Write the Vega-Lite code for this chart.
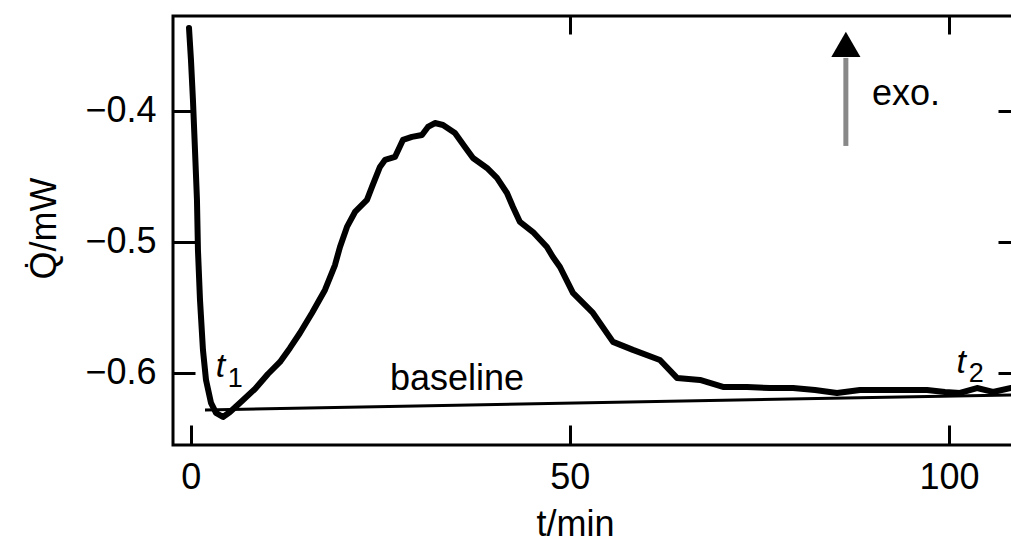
{
  "$schema": "https://vega.github.io/schema/vega-lite/v6.json",
  "autosize": {"type": "none"},
  "padding": {"left": 173, "top": 16, "right": 0, "bottom": 104},
  "width": 840,
  "height": 429,
  "background": "white",
  "config": {
    "view": {"stroke": "black", "strokeWidth": 3},
    "font": "Liberation Sans",
    "axis": {"labelFont": "Liberation Sans", "titleFont": "Liberation Sans", "labelColor": "black", "titleColor": "black", "tickColor": "black", "domain": false, "grid": false}
  },
  "datasets": {
    "curve": [
      {"t": -0.22, "q": -0.3366}, {"t": 0.04, "q": -0.3611}, {"t": 0.30, "q": -0.3916}, {"t": 0.57, "q": -0.4298},
      {"t": 0.83, "q": -0.4679}, {"t": 0.96, "q": -0.5061}, {"t": 1.23, "q": -0.5443}, {"t": 1.62, "q": -0.5824},
      {"t": 2.02, "q": -0.6053}, {"t": 2.68, "q": -0.6229}, {"t": 3.34, "q": -0.6305}, {"t": 4.26, "q": -0.6336},
      {"t": 5.18, "q": -0.6298}, {"t": 6.77, "q": -0.6214}, {"t": 8.48, "q": -0.6122}, {"t": 10.19, "q": -0.6008},
      {"t": 11.78, "q": -0.5916}, {"t": 13.10, "q": -0.5809}, {"t": 14.41, "q": -0.5695}, {"t": 16.00, "q": -0.5542},
      {"t": 17.71, "q": -0.5366}, {"t": 19.03, "q": -0.5176}, {"t": 19.69, "q": -0.5038}, {"t": 20.61, "q": -0.4885},
      {"t": 21.67, "q": -0.4771}, {"t": 23.25, "q": -0.4679}, {"t": 23.91, "q": -0.4580}, {"t": 24.96, "q": -0.4427},
      {"t": 25.62, "q": -0.4374}, {"t": 26.94, "q": -0.4351}, {"t": 27.99, "q": -0.4221}, {"t": 29.18, "q": -0.4198},
      {"t": 30.50, "q": -0.4183}, {"t": 31.29, "q": -0.4122}, {"t": 32.21, "q": -0.4092}, {"t": 33.27, "q": -0.4107},
      {"t": 34.85, "q": -0.4168}, {"t": 36.17, "q": -0.4275}, {"t": 37.23, "q": -0.4359}, {"t": 39.07, "q": -0.4435},
      {"t": 40.39, "q": -0.4511}, {"t": 41.71, "q": -0.4626}, {"t": 42.50, "q": -0.4733}, {"t": 43.42, "q": -0.4847},
      {"t": 45.14, "q": -0.4924}, {"t": 46.98, "q": -0.5038}, {"t": 47.77, "q": -0.5115}, {"t": 48.70, "q": -0.5191},
      {"t": 50.41, "q": -0.5389}, {"t": 53.05, "q": -0.5542}, {"t": 55.69, "q": -0.5763}, {"t": 58.32, "q": -0.5824},
      {"t": 61.88, "q": -0.5901}, {"t": 64.13, "q": -0.6038}, {"t": 67.16, "q": -0.6053}, {"t": 70.20, "q": -0.6107},
      {"t": 73.36, "q": -0.6107}, {"t": 76.39, "q": -0.6115}, {"t": 79.43, "q": -0.6115}, {"t": 82.33, "q": -0.6130},
      {"t": 85.23, "q": -0.6153}, {"t": 88.26, "q": -0.6130}, {"t": 92.61, "q": -0.6130}, {"t": 97.10, "q": -0.6130},
      {"t": 99.47, "q": -0.6145}, {"t": 101.45, "q": -0.6153}, {"t": 103.69, "q": -0.6115}, {"t": 105.80, "q": -0.6145},
      {"t": 108.18, "q": -0.6115}
    ],
    "baseline": [{"t1": 1.89, "q1": -0.6282, "t2": 108.2, "q2": -0.6168}],
    "labels": [
      {"label": "baseline", "t": 26.27, "q": -0.6130},
      {"label": "exo.", "t": 89.83, "q": -0.3954}
    ],
    "tlabels": [
      {"label": "t", "t": 3.3, "q": -0.6031},
      {"label": "t", "t": 101.0, "q": -0.6}
    ],
    "subs": [
      {"label": "1", "t": 4.9, "q": -0.6107},
      {"label": "2", "t": 102.6, "q": -0.6069}
    ],
    "arrow": [{"t": 86.4, "q1": -0.4267, "q2": -0.3595, "qh": -0.3492}]
  },
  "layer": [
    {
      "data": {"name": "curve"},
      "mark": {"type": "line", "color": "black", "strokeWidth": 6, "strokeJoin": "round", "strokeCap": "round"},
      "encoding": {
        "x": {"field": "t", "type": "quantitative",
          "scale": {"domain": [-2.33, 108.44], "nice": false, "zero": false},
          "axis": {"orient": "bottom", "values": [0, 50, 100], "tickSize": -20, "tickWidth": 3, "labelPadding": 63, "labelBaseline": "alphabetic", "labelFontSize": 36, "labelFlush": false,
            "title": "t/min", "titleFontSize": 36, "titleFontWeight": "normal", "titleX": 402, "titleY": 90, "titleBaseline": "alphabetic", "titleAlign": "center"}},
        "y": {"field": "q", "type": "quantitative",
          "scale": {"domain": [-0.655, -0.3275], "nice": false, "zero": false},
          "axis": {"orient": "left", "values": [-0.6, -0.5, -0.4], "format": ".1f", "tickSize": -22, "tickWidth": 3, "labelPadding": 39, "labelFontSize": 36, "labelFlush": false,
            "title": "Q̇/mW", "titleFontSize": 36, "titleFontWeight": "normal", "titleAngle": -90, "titleX": -118, "titleY": 212, "titleBaseline": "alphabetic", "titleAlign": "center"}}
      }
    },
    {
      "data": {"name": "baseline"},
      "mark": {"type": "rule", "color": "black", "strokeWidth": 3},
      "encoding": {
        "x": {"field": "t1", "type": "quantitative",
          "axis": {"orient": "top", "values": [50, 100], "tickSize": -18, "tickWidth": 3, "labels": false, "title": null}},
        "x2": {"field": "t2"},
        "y": {"field": "q1", "type": "quantitative",
          "axis": {"orient": "right", "values": [-0.6, -0.5, -0.4], "tickSize": -15, "tickWidth": 3, "labels": false, "title": null}},
        "y2": {"field": "q2"}
      }
    },
    {
      "data": {"name": "arrow"},
      "mark": {"type": "rule", "color": "#888888", "strokeWidth": 5},
      "encoding": {
        "x": {"field": "t", "type": "quantitative", "axis": null},
        "y": {"field": "q1", "type": "quantitative", "axis": null},
        "y2": {"field": "q2"}
      }
    },
    {
      "data": {"name": "arrow"},
      "mark": {"type": "point", "shape": "triangle-up", "filled": true, "color": "black", "size": 850, "opacity": 1},
      "encoding": {
        "x": {"field": "t", "type": "quantitative", "axis": null},
        "y": {"field": "qh", "type": "quantitative", "axis": null}
      }
    },
    {
      "data": {"name": "labels"},
      "mark": {"type": "text", "align": "left", "baseline": "alphabetic", "fontSize": 36, "font": "Liberation Sans", "color": "black"},
      "encoding": {
        "x": {"field": "t", "type": "quantitative", "axis": null},
        "y": {"field": "q", "type": "quantitative", "axis": null},
        "text": {"field": "label"}
      }
    },
    {
      "data": {"name": "tlabels"},
      "mark": {"type": "text", "align": "left", "baseline": "alphabetic", "fontSize": 34, "fontStyle": "italic", "font": "Liberation Sans", "color": "black"},
      "encoding": {
        "x": {"field": "t", "type": "quantitative", "axis": null},
        "y": {"field": "q", "type": "quantitative", "axis": null},
        "text": {"field": "label"}
      }
    },
    {
      "data": {"name": "subs"},
      "mark": {"type": "text", "align": "left", "baseline": "alphabetic", "fontSize": 27, "font": "Liberation Sans", "color": "black"},
      "encoding": {
        "x": {"field": "t", "type": "quantitative", "axis": null},
        "y": {"field": "q", "type": "quantitative", "axis": null},
        "text": {"field": "label"}
      }
    }
  ],
  "resolve": {"axis": {"x": "independent", "y": "independent"}}
}
